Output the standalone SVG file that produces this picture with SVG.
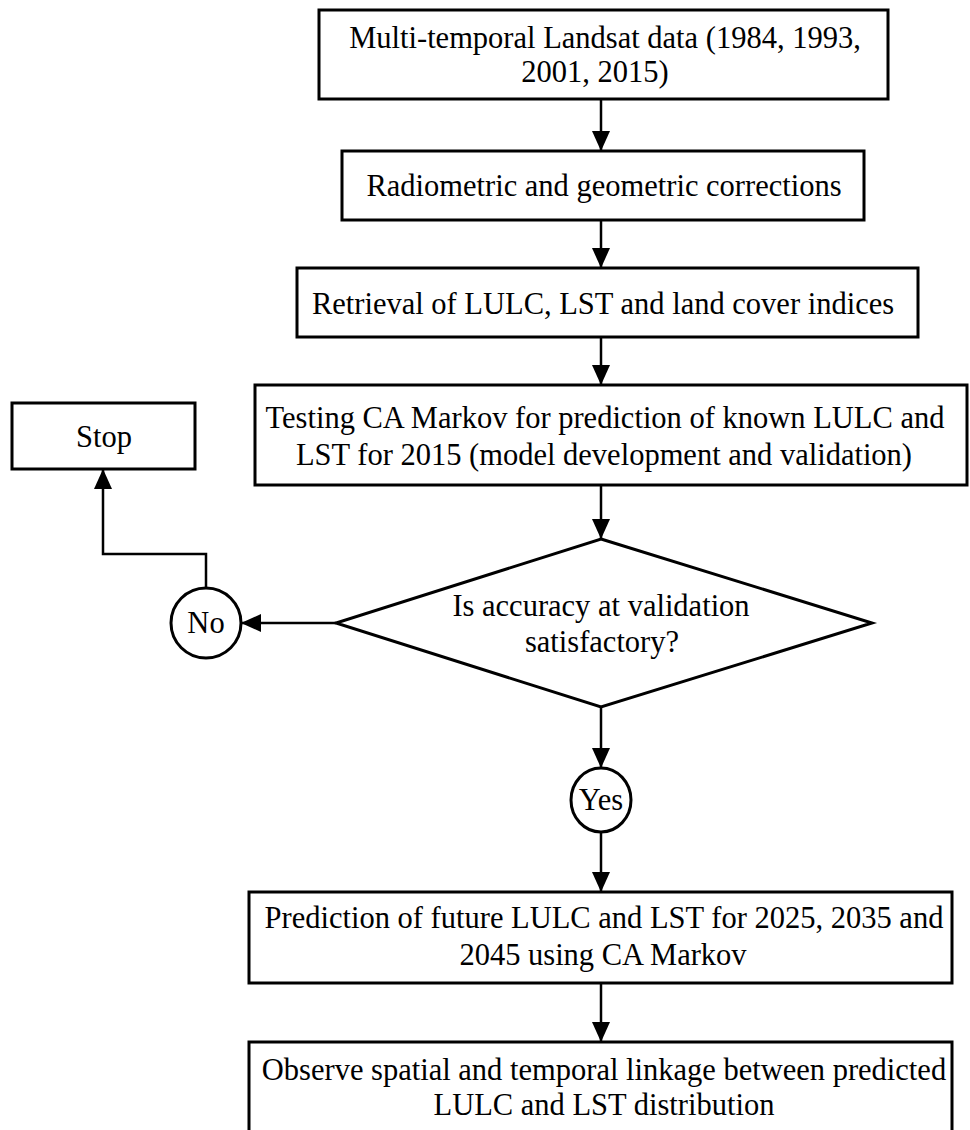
<svg xmlns="http://www.w3.org/2000/svg" width="970" height="1130" viewBox="0 0 970 1130">
<style>
.box{fill:#fff;stroke:#000;stroke-width:3}
.t{font-family:"Liberation Serif","Times New Roman",serif;font-size:30.5px;fill:#000;text-anchor:middle;dominant-baseline:central}
.c{fill:none;stroke:#000;stroke-width:2.5}
</style>
<defs>
<marker id="ah" markerUnits="userSpaceOnUse" markerWidth="20" markerHeight="18" refX="20" refY="9" orient="auto">
<path d="M0,0 L20,9 L0,18 Z" fill="#000"/>
</marker>
</defs>
<rect width="970" height="1130" fill="#fff"/>
<g id="connectors">
<line class="c" x1="601" y1="99" x2="601" y2="151" marker-end="url(#ah)"/>
<line class="c" x1="601" y1="220" x2="601" y2="268" marker-end="url(#ah)"/>
<line class="c" x1="601" y1="337" x2="601" y2="385" marker-end="url(#ah)"/>
<line class="c" x1="601" y1="485" x2="601" y2="539" marker-end="url(#ah)"/>
<line class="c" x1="601" y1="707" x2="601" y2="768" marker-end="url(#ah)"/>
<line class="c" x1="601" y1="832" x2="601" y2="892" marker-end="url(#ah)"/>
<line class="c" x1="601" y1="983" x2="601" y2="1042" marker-end="url(#ah)"/>
<line class="c" x1="336" y1="623" x2="241" y2="623" marker-end="url(#ah)"/>
<polyline class="c" points="206,588 206,554 103,554 103,469" marker-end="url(#ah)"/>
</g>
<g id="n1"><rect class="box" x="319" y="10" width="569" height="89"/><text class="t" x="605" y="38">Multi-temporal Landsat data (1984, 1993,</text><text class="t" x="595" y="72">2001, 2015)</text></g>
<g id="n2"><rect class="box" x="342" y="151" width="522" height="69"/><text class="t" x="604" y="186">Radiometric and geometric corrections</text></g>
<g id="n3"><rect class="box" x="297" y="268" width="621" height="69"/><text class="t" x="603" y="304">Retrieval of LULC, LST and land cover indices</text></g>
<g id="n4"><rect class="box" x="255" y="385" width="712" height="100"/><text class="t" x="605" y="418">Testing CA Markov for prediction of known LULC and</text><text class="t" x="604" y="455">LST for 2015 (model development and validation)</text></g>
<g id="stop"><rect class="box" x="12" y="403" width="183" height="66"/><text class="t" x="104" y="437">Stop</text></g>
<g id="decision"><polygon class="box" points="601,539 872,623 601,707 336,623"/><text class="t" x="601" y="606">Is accuracy at validation</text><text class="t" x="602" y="642">satisfactory?</text></g>
<g id="no"><circle class="box" cx="206" cy="623" r="35"/><text class="t" x="206" y="623">No</text></g>
<g id="yes"><ellipse class="box" cx="601" cy="800" rx="30" ry="32"/><text class="t" x="601" y="800">Yes</text></g>
<g id="n5"><rect class="box" x="249" y="892" width="703" height="91"/><text class="t" x="604" y="918">Prediction of future LULC and LST for 2025, 2035 and</text><text class="t" x="603" y="955">2045 using CA Markov</text></g>
<g id="n6"><rect class="box" x="249" y="1042" width="703" height="100"/><text class="t" x="604" y="1070">Observe spatial and temporal linkage between predicted</text><text class="t" x="604" y="1105">LULC and LST distribution</text></g>
</svg>
